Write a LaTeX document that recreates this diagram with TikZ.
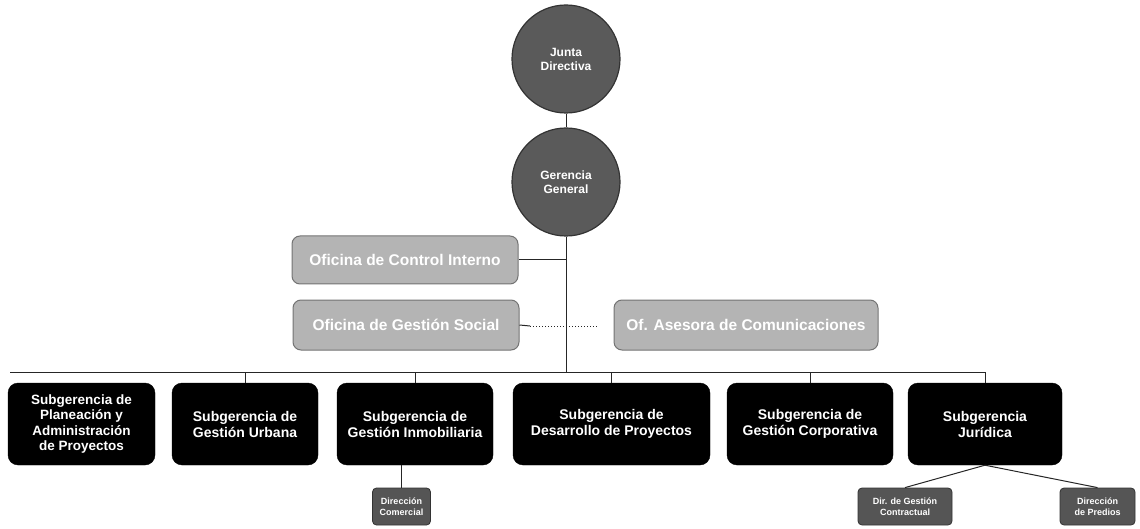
\documentclass[tikz,border=0pt]{standalone}
\usepackage{fontspec}
\setmainfont{Liberation Sans}
\definecolor{circfill}{HTML}{5A5A5A}
\definecolor{lightfill}{HTML}{B4B4B4}
\definecolor{smallfill}{HTML}{555555}
\begin{document}
\begin{tikzpicture}[x=1pt,y=-1pt,
  conn/.style={draw=black!85, line width=1pt},
  circ/.style={circle, draw=black!80, line width=1.2pt, fill=circfill, minimum size=108pt, inner sep=0pt,
    text=white, font=\fontsize{12}{14}\selectfont\bfseries, align=center},
  ofi/.style={rounded corners=8pt, draw=black!55, line width=1pt, fill=lightfill, inner sep=0pt,
    text=white, font=\fontsize{15.5}{17}\selectfont\bfseries, align=center},
  sub/.style={rounded corners=10pt, fill=black, draw=black, inner sep=0pt, minimum height=82pt,
    text=white, font=\fontsize{14}{16}\selectfont\bfseries, align=center},
  dir/.style={rounded corners=4pt, fill=smallfill, draw=black!80, line width=0.8pt, inner sep=0pt, minimum height=37pt,
    text=white, font=\fontsize{9}{11}\selectfont\bfseries, align=center}
]
\useasboundingbox (0,0) rectangle (1140,529);

% circles
\node[circ] (jd) at (566,59) {Junta\\Directiva};
\node[circ] (gg) at (566,182) {Gerencia\\General};

% staff offices
\node[ofi, minimum width=226pt, minimum height=48pt] (oci) at (405,260) {Oficina de Control Interno};
\node[ofi, minimum width=226pt, minimum height=50pt] (ogs) at (406,325) {Oficina de Gestión Social};
\node[ofi, minimum width=264pt, minimum height=50pt, font=\fontsize{15.5}{17}\selectfont\bfseries] (oca) at (746,325) {Of. Asesora de Comunicaciones};

% subgerencias
\node[sub, minimum width=147pt, font=\fontsize{13.5}{15.5}\selectfont\bfseries] (s1) at (81.5,424) {Subgerencia de\\Planeación y\\Administración\\de Proyectos};
\node[sub, minimum width=146pt] (s2) at (245,424) {Subgerencia de\\Gestión Urbana};
\node[sub, minimum width=156pt] (s3) at (415,424) {Subgerencia de\\Gestión Inmobiliaria};
\node[sub, minimum width=197pt] (s4) at (611.5,424) {Subgerencia de\\Desarrollo de Proyectos};
\node[sub, minimum width=166pt] (s5) at (810,424) {Subgerencia de\\Gestión Corporativa};
\node[sub, minimum width=154pt] (s6) at (985,424) {Subgerencia\\Jurídica};

% direcciones
\node[dir, minimum width=58pt] (dc) at (401.5,506.5) {Dirección\\Comercial};
\node[dir, minimum width=94pt] (dgc) at (905,506.5) {Dir. de Gestión\\Contractual};
\node[dir, minimum width=75pt] (dp) at (1097.5,506.5) {Dirección\\de Predios};

% coordinates
\coordinate (busL) at (10,372);
\coordinate (busR) at (985,372);
\coordinate (gsEnd) at (530,326);
\coordinate (dotEnd) at (598,326);

% connectors
\draw[conn] (jd.south) -- (gg.north);
\draw[conn] (gg.south) -- (gg.south |- busL);
\draw[conn] (oci.east) -- (oci.east -| gg.south);
\draw[conn] (ogs.east) -- (gsEnd);
\draw[conn, dotted] (gsEnd) -- (dotEnd);
\draw[conn] (busL) -- (busR);
\draw[conn] (s2.north) -- (s2.north |- busL);
\draw[conn] (s3.north) -- (s3.north |- busL);
\draw[conn] (s4.north) -- (s4.north |- busL);
\draw[conn] (s5.north) -- (s5.north |- busL);
\draw[conn] (s6.north) -- (busR);
\draw[conn] (s3.south -| dc.north) -- (dc.north);
\draw[conn] (s6.south) -- (dgc.north);
\draw[conn] (s6.south) -- (dp.north);
\end{tikzpicture}
\end{document}
